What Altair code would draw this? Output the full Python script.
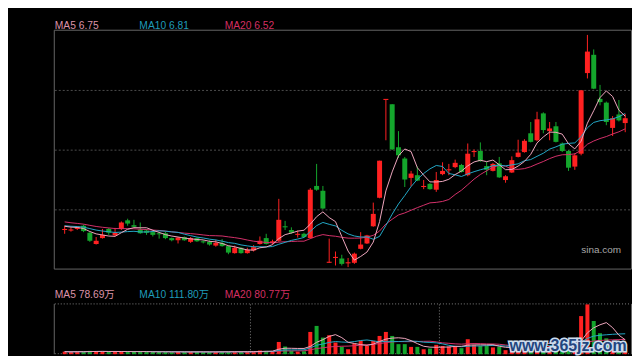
import altair as alt
import pandas as pd

# ---------------- data ----------------
opens = [4.64, 4.63, 4.66, 4.72, 4.59, 4.38, 4.49, 4.66, 4.54, 4.66,
         4.82, 4.73, 4.65, 4.63, 4.60, 4.58, 4.58, 4.49, 4.45, 4.51,
         4.42, 4.49, 4.43, 4.42, 4.35, 4.40, 4.34, 4.21, 4.31, 4.21,
         4.26, 4.38, 4.49, 4.40, 4.44, 4.71, 4.64, 4.55, 4.57, 4.49,
         5.46, 5.37, 4.03, 4.12, 4.11, 4.02, 4.03, 4.29, 4.39, 4.71,
         5.24, 7.06, 6.98, 6.18, 5.97, 5.61, 5.66, 5.44, 5.50, 5.39,
         5.68, 5.75, 5.81, 5.85, 5.66, 6.09, 6.11, 5.83, 5.74, 5.88,
         5.57, 5.71, 6.00, 6.09, 6.44, 6.31, 6.81, 6.48, 6.57, 6.25,
         6.11, 5.82, 6.06, 7.56, 7.90, 7.08, 7.01, 6.54, 6.79, 6.63]
closes = [4.66, 4.65, 4.69, 4.62, 4.44, 4.44, 4.55, 4.59, 4.59, 4.78,
          4.76, 4.70, 4.58, 4.59, 4.55, 4.56, 4.49, 4.45, 4.50, 4.45,
          4.49, 4.43, 4.41, 4.37, 4.40, 4.34, 4.22, 4.31, 4.21, 4.27,
          4.32, 4.44, 4.38, 4.43, 4.83, 4.69, 4.59, 4.56, 4.51, 5.39,
          5.39, 5.04, 4.03, 4.13, 4.01, 4.03, 4.20, 4.37, 4.54, 4.94,
          5.93, 7.06, 6.14, 6.03, 5.58, 5.69, 5.56, 5.45, 5.40, 5.57,
          5.74, 5.76, 5.89, 5.72, 6.06, 6.10, 5.92, 5.76, 5.87, 5.62,
          5.64, 5.94, 6.08, 6.30, 6.28, 6.70, 6.50, 6.53, 6.28, 6.11,
          5.80, 6.03, 7.24, 7.96, 7.27, 7.02, 6.65, 6.72, 6.68, 6.72]
highs = [4.72, 4.69, 4.71, 4.74, 4.60, 4.51, 4.66, 4.68, 4.68, 4.80,
         4.85, 4.83, 4.78, 4.66, 4.64, 4.61, 4.61, 4.50, 4.51, 4.52,
         4.51, 4.50, 4.45, 4.45, 4.46, 4.47, 4.35, 4.35, 4.32, 4.31,
         4.36, 4.52, 4.57, 4.46, 5.22, 4.81, 4.69, 4.63, 4.59, 5.42,
         5.87, 5.46, 4.48, 4.24, 4.18, 4.12, 4.22, 4.60, 4.55, 5.15,
         5.93, 7.06, 6.98, 6.48, 6.00, 5.74, 5.82, 5.57, 5.51, 5.72,
         5.90, 5.87, 5.95, 5.87, 6.25, 6.14, 6.27, 5.91, 5.89, 6.00,
         5.66, 6.01, 6.32, 6.33, 6.65, 6.84, 6.83, 6.65, 6.65, 6.27,
         6.13, 6.07, 7.24, 8.27, 8.00, 7.34, 7.03, 6.76, 7.06, 6.80]
lows = [4.57, 4.61, 4.64, 4.60, 4.42, 4.37, 4.48, 4.55, 4.53, 4.64,
        4.72, 4.69, 4.57, 4.55, 4.52, 4.48, 4.47, 4.43, 4.39, 4.44,
        4.40, 4.42, 4.39, 4.35, 4.33, 4.33, 4.19, 4.20, 4.20, 4.20,
        4.24, 4.37, 4.37, 4.37, 4.42, 4.64, 4.57, 4.50, 4.50, 4.48,
        5.37, 5.03, 4.03, 3.98, 3.98, 3.95, 4.01, 4.28, 4.38, 4.70,
        5.23, 6.31, 6.13, 5.98, 5.44, 5.45, 5.55, 5.40, 5.39, 5.35,
        5.66, 5.66, 5.79, 5.71, 5.64, 6.00, 5.91, 5.66, 5.73, 5.61,
        5.52, 5.70, 5.99, 6.08, 6.27, 6.29, 6.44, 6.31, 6.27, 6.09,
        5.74, 5.76, 6.03, 7.46, 7.26, 6.96, 6.59, 6.39, 6.66, 6.46]
# volume in 万 (10k shares)
volumes = [14, 12, 15, 13, 18, 16, 15, 12, 13, 17,
           15, 12, 14, 13, 12, 14, 13, 11, 12, 13,
           12, 14, 11, 12, 13, 14, 15, 13, 12, 14,
           15, 20, 18, 16, 67, 42, 18, 14, 16, 122,
           155, 91, 104, 64, 40, 27, 58, 73, 45, 73,
           100, 122, 100, 55, 55, 40, 40, 27, 31, 51,
           45, 42, 45, 33, 82, 51, 45, 45, 37, 40,
           22, 37, 49, 66, 55, 71, 60, 44, 49, 44,
           33, 27, 209, 273, 182, 115, 87, 71, 66, 55]
# closes just before the visible window (only feed the moving averages)
prior_closes = [4.97, 4.93, 4.90, 4.88, 4.86, 4.85, 4.83, 4.82, 4.80, 4.78,
                4.75, 4.74, 4.73, 4.72, 4.71, 4.73, 4.72, 4.72, 4.72]
# candle index where a new period starts (dotted separators in the volume pane)
period_starts = [30, 60]

price_labels = ["MA5 6.75", "MA10 6.81", "MA20 6.52"]
volume_labels = ["MA5 78.69万", "MA10 111.80万", "MA20 80.77万"]
site_label = "sina.com"
watermark = "www.365jz.com"

# ---------------- frames ----------------
N = len(closes)
cdf = pd.DataFrame({"i": list(range(N)), "open": opens, "close": closes,
                    "high": highs, "low": lows, "vol": volumes})
mdf = pd.DataFrame({"i": list(range(-len(prior_closes), N)),
                    "close": prior_closes + closes})
bdf = pd.DataFrame({"b": [p - 0.5 for p in period_starts]})

W, H = 579, 325
MAIN_H, VOL_H, VOL_TOP = 240, 50, 275
main_lo, main_hi = 3.904, 8.348
price_scale = alt.Scale(domain=[main_hi - (main_hi - main_lo) * H / MAIN_H, main_hi],
                        nice=False, zero=False)
vol_scale = alt.Scale(domain=[0, max(volumes) * H / VOL_H], nice=False, zero=False)
xs = alt.Scale(domain=[-0.78, N - 1 + 0.13], nice=False, zero=False)
x_enc = alt.X("i:Q", scale=xs, axis=None)

RED, GREEN = "#ff2121", "#14a62c"
C5, C10, C20 = "#eea6bd", "#22a7c6", "#d4306a"
T5, T10, T20 = "#dc93a8", "#1f9cb9", "#d42f62"
FRAME = "#666666"
FONT = "Liberation Sans, Arial, Noto Sans CJK SC"

color_enc = alt.Color("dir:N", scale=alt.Scale(domain=["up", "down"], range=[RED, GREEN]),
                      legend=None)

candles = alt.Chart(cdf).transform_calculate(
    dir="datum.close >= datum.open ? 'up' : 'down'",
    lo="min(datum.open, datum.close)",
    hi="max(datum.open, datum.close, min(datum.open, datum.close) + 0.02)",
)
wicks = candles.mark_rule(strokeWidth=1).encode(
    x=x_enc, y=alt.Y("high:Q", scale=price_scale, axis=None), y2="low:Q", color=color_enc)
bodies = candles.mark_bar(size=5).encode(
    x=x_enc, y=alt.Y("hi:Q", scale=price_scale, axis=None), y2="lo:Q", color=color_enc)
vbars = candles.mark_bar(size=4).encode(
    x=x_enc, y=alt.Y("vol:Q", scale=vol_scale, axis=None), color=color_enc)


def ma_line(df, src, n, color, scale):
    name = f"ma{n}_{src}"
    return alt.Chart(df).transform_window(
        **{name: f"mean({src})"}, frame=[-(n - 1), 0], sort=[alt.SortField("i")]
    ).transform_filter("datum.i >= 0").mark_line(color=color, strokeWidth=1).encode(
        x=x_enc, y=alt.Y(f"{name}:Q", scale=scale, axis=None))


ma_price = [ma_line(mdf, "close", n, c, price_scale) for n, c in ((20, C20), (10, C10), (5, C5))]
ma_vol = [ma_line(cdf, "vol", n, c, vol_scale) for n, c in ((20, C20), (10, C10), (5, C5))]

one = pd.DataFrame({"a": [0]})
grid_df = pd.DataFrame({"p": [main_lo + (main_hi - main_lo) * k / 4 for k in (1, 2, 3)]})
grid = alt.Chart(grid_df).mark_rule(strokeDash=[2, 2], color="#4c4c4c", strokeWidth=1).encode(
    y=alt.Y("p:Q", scale=price_scale, axis=None), x=alt.value(0), x2=alt.value(W))
frame_main = alt.Chart(one).mark_rect(filled=False, stroke=FRAME, strokeWidth=1).encode(
    x=alt.value(-0.5), x2=alt.value(W + 0.5), y=alt.value(-0.5), y2=alt.value(MAIN_H - 0.5))
vl = alt.Chart(one).mark_rule(color=FRAME, strokeWidth=1).encode(
    x=alt.value(-0.5), y=alt.value(VOL_TOP - 0.5), y2=alt.value(H))
vr = alt.Chart(one).mark_rule(color=FRAME, strokeWidth=1).encode(
    x=alt.value(W + 0.5), y=alt.value(VOL_TOP - 0.5), y2=alt.value(H))
vtop = alt.Chart(one).mark_rule(color="#808080", strokeWidth=1, strokeDash=[1, 2]).encode(
    x=alt.value(0), x2=alt.value(W), y=alt.value(VOL_TOP - 0.5))
vbot = alt.Chart(one).mark_rule(color="#707070", strokeWidth=1, strokeDash=[1, 2]).encode(
    x=alt.value(0), x2=alt.value(W), y=alt.value(H - 0.5))
vsep = alt.Chart(bdf).mark_rule(color="#808080", strokeWidth=1, strokeDash=[1, 2]).encode(
    x=alt.X("b:Q", scale=xs, axis=None), y=alt.value(VOL_TOP), y2=alt.value(H))


def label(txt, x, y, color, size=10.3, **kw):
    return alt.Chart(pd.DataFrame({"t": [txt]})).mark_text(
        align="left", baseline="alphabetic", fontSize=size, font=FONT, color=color, **kw
    ).encode(text="t:N", x=alt.value(x), y=alt.value(y))


texts = []
for txt, xo, col in zip(price_labels, (0, 85, 170.7), (T5, T10, T20)):
    texts.append(label(txt, xo, -2, col))
for txt, xo, col in zip(volume_labels, (0, 85, 170.7), (T5, T10, T20)):
    texts.append(label(txt, xo, 268.7, col))
texts.append(label(site_label, 529, 223, "#a9a9a9", size=10))
wm_back = label(watermark, 457, 321.5, "#cdddee", size=16, fontWeight="bold",
                stroke="#cdddee", strokeWidth=3)
wm_front = label(watermark, 457, 321.5, "#23467f", size=16, fontWeight="bold")

chart = alt.layer(
    grid, frame_main, vl, vr, vtop, vbot, vsep,
    wicks, bodies, *ma_price,
    vbars, *ma_vol,
    *texts, wm_back, wm_front,
).resolve_scale(y="independent").properties(
    width=W, height=H, background="#000000",
    padding={"left": 47, "top": 22, "right": 1, "bottom": 1},
    autosize=alt.AutoSizeParams(type="none"),
).configure_view(stroke=None)

chart.save("out.html", embed_options={"renderer": "svg", "actions": False})
